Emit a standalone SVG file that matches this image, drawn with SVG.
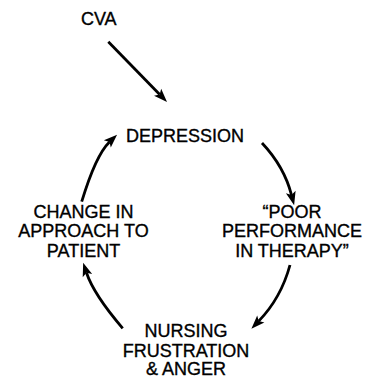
<svg xmlns="http://www.w3.org/2000/svg" width="370" height="380" viewBox="0 0 370 380">
  <style>
    text { font-family: "Liberation Sans", Arial, Helvetica, sans-serif; font-size: 18px; fill: #000; stroke: #000; stroke-width: 0.35; text-anchor: middle; }
    .link { fill: none; stroke: #000; stroke-width: 2.8; stroke-linecap: butt; }
  </style>
  <defs>
    <marker id="head" markerUnits="userSpaceOnUse" markerWidth="20" markerHeight="20" refX="3" refY="0" orient="auto" overflow="visible">
      <path d="M0,-5 L13.5,0 L0,5 L3,0 Z" fill="#000"/>
    </marker>
  </defs>
  <rect width="370" height="380" fill="#fff"/>

  <g id="connectors">
    <!-- CVA to DEPRESSION -->
    <path class="link" d="M108.3,41.7 L159.7,94.5" marker-end="url(#head)"/>
    <!-- DEPRESSION to POOR PERFORMANCE -->
    <path class="link" d="M262,143 Q284.2,166.6 291.5,195" marker-end="url(#head)"/>
    <!-- POOR PERFORMANCE to NURSING FRUSTRATION -->
    <path class="link" d="M290,265 Q281,298.1 258.7,321.1" marker-end="url(#head)"/>
    <!-- NURSING FRUSTRATION to CHANGE IN APPROACH -->
    <path class="link" d="M122.7,328.3 Q93.8,294.6 86.5,272.8" marker-end="url(#head)"/>
    <!-- CHANGE IN APPROACH to DEPRESSION -->
    <path class="link" d="M81.7,201.7 Q95.8,155 109.5,141.9" marker-end="url(#head)"/>
  </g>

  <g id="cva">
    <text x="98.8" y="25">CVA</text>
  </g>
  <g id="depression">
    <text x="185" y="141.5">DEPRESSION</text>
  </g>
  <g id="poor-performance">
    <text x="292" y="217.5">“POOR</text>
    <text x="292" y="237.3">PERFORMANCE</text>
    <text x="292" y="257.2">IN THERAPY”</text>
  </g>
  <g id="nursing-frustration">
    <text x="186" y="336.7">NURSING</text>
    <text x="186" y="356.5">FRUSTRATION</text>
    <text x="186" y="375">&amp; ANGER</text>
  </g>
  <g id="change-approach">
    <text x="83.5" y="217.5">CHANGE IN</text>
    <text x="83.5" y="237.3">APPROACH TO</text>
    <text x="83.5" y="257">PATIENT</text>
  </g>
</svg>
